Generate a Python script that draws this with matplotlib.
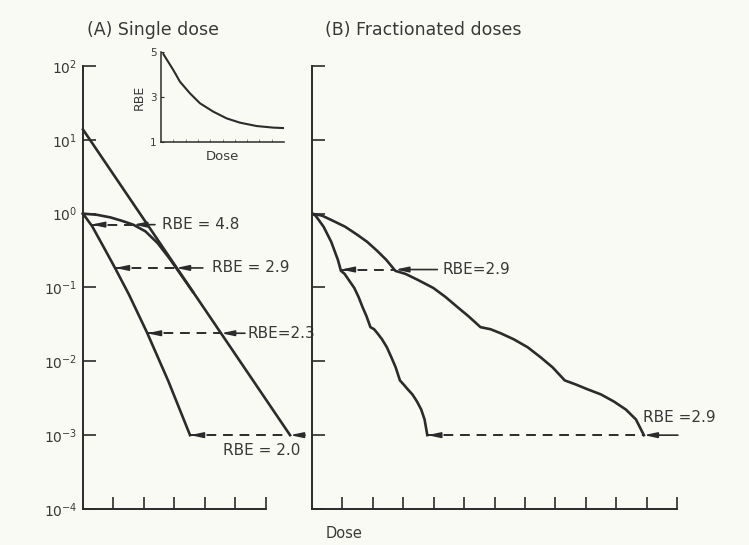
import matplotlib
matplotlib.use('Agg')
import matplotlib.pyplot as plt
from matplotlib.ticker import NullLocator

#########################################################
# data (dose in tick units, surviving fraction)

# (A) single dose
A_XRAY_LINE_X = [0.0, 6.79]
A_XRAY_LINE_Y = [13.8, 0.001]

A_XRAY_SHOULDER_X = [0.0, 0.45, 0.9, 1.3, 1.65, 2.05, 2.45, 2.85, 3.2, 3.6]
A_XRAY_SHOULDER_Y = [1.0, 0.966, 0.89, 0.794, 0.708, 0.575, 0.398, 0.243, 0.151, 0.0875]

A_NEUTRON_X = [0.0, 0.3, 0.7, 1.05, 1.5, 2.1, 2.8, 3.51]
A_NEUTRON_Y = [1.0, 0.676, 0.339, 0.184, 0.0813, 0.0245, 0.00537, 0.001]

# RBE arrows: level, high-LET dose, low-LET dose, arrow tail, label, label pos
A_RBE_Y = [0.71, 0.184, 0.024, 0.001]
A_RBE_XLO = [0.27, 1.05, 2.1, 3.51]
A_RBE_XHI = [1.65, 3.05, 4.53, 6.79]
A_RBE_TAIL = [2.36, 3.93, 5.31, 7.28]
A_RBE_LABELS = ['RBE = 4.8', 'RBE = 2.9', 'RBE=2.3', 'RBE = 2.0']
A_RBE_TX = [2.59, 4.23, 5.38, 5.87]
A_RBE_TY = [0.71, 0.184, 0.024, 0.00062]

# inset: RBE vs dose
INSET_X = [0.19, 0.6, 1.0, 1.54, 2.36, 3.17, 4.25, 5.34, 6.42, 7.78, 9.13, 10.0]
INSET_RBE = [4.91, 4.55, 4.2, 3.68, 3.16, 2.72, 2.35, 2.05, 1.86, 1.71, 1.64, 1.62]

# (B) fractionated doses
B_XRAY_X = [0, 0.33, 0.69, 1.09, 1.48, 1.81, 2.14, 2.44, 2.74,
            3.07, 3.49, 3.99, 4.39, 4.78, 5.14, 5.54,
            5.87, 6.20, 6.63, 7.09, 7.52, 7.91, 8.31,
            8.67, 9.07, 9.50, 9.92, 10.32, 10.65, 10.91]
B_NEUTRON_X = [0, 0.115, 0.24, 0.38, 0.51, 0.63, 0.74, 0.85, 0.95,
               1.07, 1.21, 1.39, 1.53, 1.66, 1.79, 1.92,
               2.04, 2.15, 2.30, 2.46, 2.61, 2.75, 2.89,
               3.01, 3.15, 3.30, 3.45, 3.59, 3.70, 3.79]
B_SURV = [1.0, 0.94, 0.80, 0.665, 0.52, 0.416, 0.314, 0.237, 0.168,
          0.153, 0.126, 0.0984, 0.0743, 0.0543, 0.0409, 0.029,
          0.0272, 0.024, 0.0199, 0.0155, 0.0113, 0.00828, 0.00551,
          0.00486, 0.00416, 0.00356, 0.00286, 0.00222, 0.00163, 0.001]

B_RBE_Y = [0.175, 0.001]
B_RBE_XLO = [0.95, 3.79]
B_RBE_XHI = [2.74, 10.91]
B_RBE_TAIL = [4.12, 12.03]
B_RBE_LABELS = ['RBE=2.9', 'RBE =2.9']
B_RBE_TX = [4.29, 10.88]
B_RBE_TY = [0.175, 0.00173]

Y_TICKS = [1e-4, 1e-3, 1e-2, 1e-1, 1e0, 1e1, 1e2]
Y_TICK_LABELS = ['$10^{-4}$', '$10^{-3}$', '$10^{-2}$', '$10^{-1}$',
                 '$10^{0}$', '$10^{1}$', '$10^{2}$']

#########################################################

BG = '#fafaf5'
INK = '#2b2b2b'
TXT = '#383838'

plt.rcParams['mathtext.default'] = 'regular'
plt.rcParams['font.family'] = ['DejaVu Sans']

fig = plt.figure(figsize=(7.49, 5.45), dpi=100, facecolor=BG)
axA = fig.add_axes([0.1108, 0.0661, 0.2443, 0.8128])
axB = fig.add_axes([0.4166, 0.0661, 0.4873, 0.8128])
axI = fig.add_axes([0.215, 0.7394, 0.1642, 0.1651])


def style_main(ax, nx):
    ax.set_facecolor('none')
    ax.set_yscale('log')
    ax.set_ylim(1e-4, 1e2)
    ax.set_xlim(0, nx)
    ax.set_xticks(range(1, nx + 1))
    ax.set_xticklabels([])
    ax.set_yticks(Y_TICKS)
    ax.yaxis.set_minor_locator(NullLocator())
    for s in ['top', 'right']:
        ax.spines[s].set_visible(False)
    for s in ['left', 'bottom']:
        ax.spines[s].set_color(INK)
        ax.spines[s].set_linewidth(1.4)
    ax.tick_params(direction='in', length=9, width=1.2, color=INK,
                   labelcolor=TXT, labelsize=10, pad=4)


def rbe_arrows(ax, ys, xlo, xhi, tails, labels, tx, ty):
    head = '-|>,head_length=0.75,head_width=0.16'
    for y, a, b, t, lab, x_t, y_t in zip(ys, xlo, xhi, tails, labels, tx, ty):
        # dashed part between the two curves
        ax.plot([a, b], [y, y], ls=(0, (5, 3.5)), color=INK, lw=1.4,
                clip_on=False)
        ax.annotate('', xy=(a, y), xytext=(a + 0.35, y), annotation_clip=False,
                    arrowprops=dict(arrowstyle=head, color=INK, lw=1.2,
                                    shrinkA=0, shrinkB=0, mutation_scale=10))
        # solid pointer from the label
        ax.annotate('', xy=(b, y), xytext=(t, y), annotation_clip=False,
                    arrowprops=dict(arrowstyle=head, color=INK, lw=1.2,
                                    shrinkA=0, shrinkB=0, mutation_scale=10))
        ha = 'center' if lab == 'RBE = 2.0' else 'left'
        ax.text(x_t, y_t, lab, ha=ha, va='center', fontsize=11, color=TXT,
                clip_on=False)


#########################################################
# (A)

style_main(axA, 6)
axA.set_yticklabels(Y_TICK_LABELS)

axA.plot(A_XRAY_LINE_X, A_XRAY_LINE_Y, color=INK, lw=1.9, clip_on=False)
axA.plot(A_XRAY_SHOULDER_X, A_XRAY_SHOULDER_Y, color=INK, lw=1.9, clip_on=False)
axA.plot(A_NEUTRON_X, A_NEUTRON_Y, color=INK, lw=1.9, clip_on=False)

rbe_arrows(axA, A_RBE_Y, A_RBE_XLO, A_RBE_XHI, A_RBE_TAIL,
           A_RBE_LABELS, A_RBE_TX, A_RBE_TY)

#########################################################
# inset

axI.set_facecolor('none')
axI.plot(INSET_X, INSET_RBE, color=INK, lw=1.5)
axI.set_xlim(0, 10)
axI.set_ylim(1, 5)
axI.set_yticks([1, 3, 5])
axI.set_xticks(range(1, 10))
axI.set_xticklabels([])
for s in ['top', 'right']:
    axI.spines[s].set_visible(False)
for s in ['left', 'bottom']:
    axI.spines[s].set_color(INK)
    axI.spines[s].set_linewidth(1.1)
axI.tick_params(axis='y', direction='in', length=2, width=0.8, color=INK,
                labelsize=7.5, labelcolor=TXT, pad=3)
axI.tick_params(axis='x', direction='in', length=2, width=0.6, color='#777777')
axI.set_ylabel('RBE', fontsize=9, color=TXT, labelpad=3)
axI.set_xlabel('Dose', fontsize=9.5, color=TXT, labelpad=2)

#########################################################
# (B)

style_main(axB, 12)
axB.set_yticklabels([])

axB.plot(B_XRAY_X, B_SURV, color=INK, lw=1.9)
axB.plot(B_NEUTRON_X, B_SURV, color=INK, lw=1.9)

rbe_arrows(axB, B_RBE_Y, B_RBE_XLO, B_RBE_XHI, B_RBE_TAIL,
           B_RBE_LABELS, B_RBE_TX, B_RBE_TY)

#########################################################

fig.text(87 / 749, 1 - 30 / 545, '(A) Single dose', ha='left', va='center',
         fontsize=12.5, color=TXT)
fig.text(325 / 749, 1 - 30 / 545, '(B) Fractionated doses', ha='left',
         va='center', fontsize=12.5, color=TXT)
fig.text(344 / 749, 1 - 533 / 545, 'Dose', ha='center', va='center',
         fontsize=10.5, color=TXT)

fig.savefig('out.png', dpi=100, facecolor=BG)
